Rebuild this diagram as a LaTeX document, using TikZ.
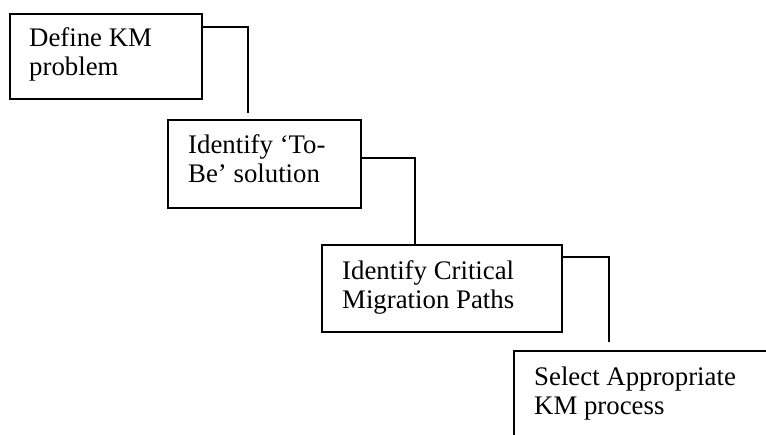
\documentclass[tikz,border=0pt]{standalone}
\usepackage{fontspec}
\setmainfont{Liberation Serif}
\usetikzlibrary{calc}

\tikzset{
  stepbox/.style={draw, line width=1.7pt, rectangle, inner sep=0pt, anchor=north west},
  steptext/.style={anchor=base west, inner sep=0pt,
    font=\fontsize{26.8}{29}\selectfont},
  link/.style={line width=1.7pt}
}
\newcommand{\twolines}[2]{\parbox[t]{240pt}{\raggedright #1\\#2}}

\begin{document}
\begin{tikzpicture}[x=1pt, y=-1pt]
  \useasboundingbox (0,0) rectangle (766,434);
  \clip (0,0) rectangle (766,434);

  % process steps, stepping down to the right
  \node[stepbox, minimum width=192pt, minimum height=85pt] (b1) at (9,13) {};
  \node[stepbox, minimum width=193pt, minimum height=88pt] (b2) at (167,119) {};
  \node[stepbox, minimum width=240pt, minimum height=87pt] (b3) at (321,244) {};
  \node[stepbox, minimum width=300pt, minimum height=110pt] (b4) at (513,350) {};

  % labels
  \node[steptext] (t1) at ($(b1.north west)+(20,33)$) {\twolines{Define KM}{problem}};
  \node[steptext] (t2) at ($(b2.north west)+(21,34)$) {\twolines{Identify ‘To-}{Be’ solution}};
  \node[steptext] (t3) at ($(b3.north west)+(21,35)$) {\twolines{Identify Critical}{Migration Paths}};
  \node[steptext] (t4) at ($(b4.north west)+(21,35)$) {\twolines{Select Appropriate}{KM process}};

  % elbow connectors between consecutive steps
  \coordinate (s1) at ($(b1.north east)+(0,14)$);
  \coordinate (e1) at ($(b2.north west)+(81,-6)$);
  \coordinate (s2) at ($(b2.north east)+(0,39)$);
  \coordinate (e2) at ($(b3.north west)+(94,0)$);
  \coordinate (s3) at ($(b3.north east)+(0,13)$);
  \coordinate (e3) at ($(b4.north west)+(96,-8)$);

  \draw[link] (s1) -| (e1);
  \draw[link] (s2) -| (e2);
  \draw[link] (s3) -| (e3);
\end{tikzpicture}
\end{document}
